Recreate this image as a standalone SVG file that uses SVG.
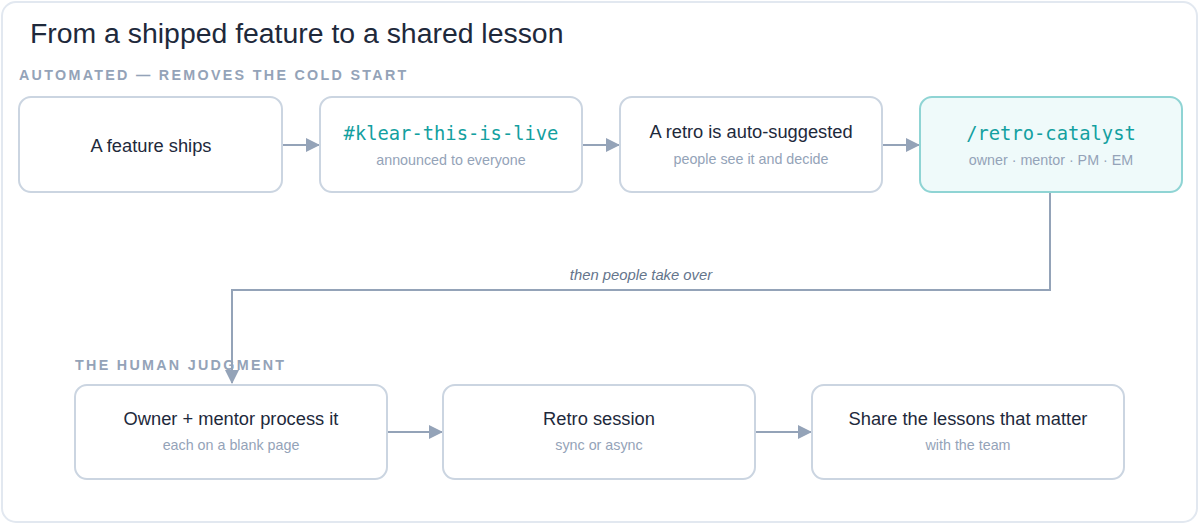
<svg xmlns="http://www.w3.org/2000/svg" width="1200" height="525" viewBox="0 0 1200 525">
<defs>
<style>
.frame{fill:#ffffff;stroke:#e2e8f0;stroke-width:2}
.box{fill:#ffffff;stroke:#cbd5e1;stroke-width:2}
.hl{fill:#effafa;stroke:#8fd4d4;stroke-width:2}
.title{font-family:"Liberation Sans",Arial,sans-serif;font-size:28.4px;fill:#1e293b}
.sec{font-family:"Liberation Sans",Arial,sans-serif;font-size:14.3px;font-weight:bold;letter-spacing:2.3px;fill:#94a3b8}
.t{font-family:"Liberation Sans",Arial,sans-serif;font-size:18.3px;fill:#1e293b;text-anchor:middle}
.m{font-family:"DejaVu Sans Mono","Liberation Mono",monospace;font-size:18.8px;fill:#13a0a0;text-anchor:middle}
.s{font-family:"Liberation Sans",Arial,sans-serif;font-size:14.3px;fill:#94a3b8;text-anchor:middle}
.lbl{font-family:"Liberation Sans",Arial,sans-serif;font-size:14.8px;font-style:italic;fill:#64748b;text-anchor:middle}
.c{fill:none;stroke:#94a3b8;stroke-width:2}
</style>
<marker id="ahb" markerWidth="14" markerHeight="14" refX="13" refY="7" orient="auto" markerUnits="userSpaceOnUse" viewBox="0 0 14 14">
<path d="M0,0 L14,7 L0,14 z" fill="#94a3b8"/>
</marker>
</defs>
<rect class="frame" x="2" y="2" width="1195" height="520" rx="14"/>
<text class="title" x="30" y="43">From a shipped feature to a shared lesson</text>
<text class="sec" x="19" y="80">AUTOMATED — REMOVES THE COLD START</text>
<text class="sec" x="75" y="370">THE HUMAN JUDGMENT</text>

<g id="connectors">
<line class="c" x1="282" y1="145" x2="319" y2="145" marker-end="url(#ahb)"/>
<line class="c" x1="582" y1="145" x2="619" y2="145" marker-end="url(#ahb)"/>
<line class="c" x1="882" y1="145" x2="919" y2="145" marker-end="url(#ahb)"/>
<polyline class="c" points="1050,192 1050,290 232,290 232,383" marker-end="url(#ahb)"/>
<text class="lbl" x="641" y="280">then people take over</text>
<line class="c" x1="387" y1="432" x2="442" y2="432" marker-end="url(#ahb)"/>
<line class="c" x1="755" y1="432" x2="811" y2="432" marker-end="url(#ahb)"/>
</g>

<g id="n1">
<rect class="box" x="19" y="97" width="263" height="95" rx="12"/>
<text class="t" x="151" y="152">A feature ships</text>
</g>
<g id="n2">
<rect class="box" x="320" y="97" width="262" height="95" rx="12"/>
<text class="m" x="451" y="140">#klear-this-is-live</text>
<text class="s" x="451" y="165">announced to everyone</text>
</g>
<g id="n3">
<rect class="box" x="620" y="97" width="262" height="95" rx="12"/>
<text class="t" x="751" y="138">A retro is auto-suggested</text>
<text class="s" x="751" y="164">people see it and decide</text>
</g>
<g id="n4">
<rect class="hl" x="920" y="97" width="262" height="95" rx="12"/>
<text class="m" x="1051" y="140">/retro-catalyst</text>
<text class="s" x="1051" y="165">owner · mentor · PM · EM</text>
</g>
<g id="n5">
<rect class="box" x="75" y="385" width="312" height="94" rx="12"/>
<text class="t" x="231" y="425">Owner + mentor process it</text>
<text class="s" x="231" y="450">each on a blank page</text>
</g>
<g id="n6">
<rect class="box" x="443" y="385" width="312" height="94" rx="12"/>
<text class="t" x="599" y="425">Retro session</text>
<text class="s" x="599" y="450">sync or async</text>
</g>
<g id="n7">
<rect class="box" x="812" y="385" width="312" height="94" rx="12"/>
<text class="t" x="968" y="425">Share the lessons that matter</text>
<text class="s" x="968" y="450">with the team</text>
</g>
</svg>
